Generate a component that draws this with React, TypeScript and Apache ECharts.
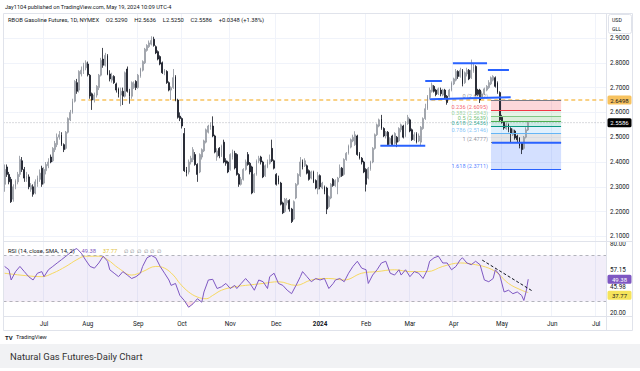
import React, { useEffect, useRef } from 'react';
import * as echarts from 'echarts';

const FONT = 'Roboto, "Noto Sans", sans-serif';

// ---- dates ----
const FIRST_DAY = '2023-06-06';
const LAST_BAR_DAY = '2024-05-17';
const LAST_AXIS_DAY = '2024-07-05';
const HOLIDAYS = ['2023-06-19', '2023-07-04', '2023-09-04', '2023-11-23', '2023-12-25', '2024-01-01', '2024-01-15', '2024-02-19', '2024-03-29'];
const MONTHS = ['Jan', 'Feb', 'Mar', 'Apr', 'May', 'Jun', 'Jul', 'Aug', 'Sep', 'Oct', 'Nov', 'Dec'];

// ---- OHLC (RBOB, daily) ----
const opens = [
  2.31, 2.38, 2.35, 2.33, 2.25, 2.30, 2.32, 2.35, 2.405, 2.37,
  2.33, 2.34, 2.29, 2.30, 2.275, 2.31, 2.33, 2.375, 2.315, 2.365,
  2.385, 2.42, 2.405, 2.45, 2.47, 2.50, 2.51, 2.47, 2.455, 2.52,
  2.57, 2.60, 2.645, 2.72, 2.69, 2.755, 2.765, 2.78, 2.795, 2.75,
  2.675, 2.65, 2.67, 2.70, 2.75, 2.815, 2.79, 2.83, 2.755, 2.73,
  2.745, 2.715, 2.695, 2.67, 2.685, 2.665, 2.775, 2.685,
  2.665, 2.70, 2.725, 2.70, 2.745, 2.77, 2.80, 2.85, 2.865, 2.875,
  2.895, 2.865, 2.845, 2.825, 2.80, 2.76, 2.765, 2.72, 2.69, 2.70,
  2.745, 2.65, 2.585, 2.575, 2.515, 2.37, 2.36, 2.40, 2.41, 2.43,
  2.39, 2.36, 2.42, 2.445, 2.48, 2.52, 2.54, 2.545, 2.505,
  2.42, 2.455, 2.425, 2.48, 2.405, 2.40, 2.37, 2.42, 2.435, 2.43,
  2.35, 2.31, 2.33, 2.37, 2.43, 2.395, 2.38, 2.28, 2.35, 2.405,
  2.42, 2.40, 2.345, 2.38, 2.395, 2.455, 2.405, 2.35, 2.335, 2.315,
  2.235, 2.20, 2.235, 2.245, 2.21, 2.17, 2.255, 2.31, 2.345, 2.40,
  2.385, 2.385, 2.365, 2.335, 2.36, 2.325, 2.29, 2.345, 2.295, 2.30,
  2.295, 2.22, 2.255, 2.33, 2.305, 2.32, 2.34, 2.375, 2.35, 2.41,
  2.435, 2.46, 2.485, 2.47, 2.505, 2.435, 2.415, 2.40, 2.37, 2.335,
  2.37, 2.40, 2.455, 2.51, 2.545, 2.575, 2.535, 2.505, 2.52, 2.475,
  2.505, 2.475, 2.50, 2.485, 2.53, 2.545, 2.505, 2.555, 2.57, 2.53,
  2.49, 2.515, 2.485, 2.48, 2.535, 2.575, 2.615, 2.66, 2.685, 2.705,
  2.69, 2.675, 2.69, 2.67, 2.69, 2.665, 2.665, 2.69, 2.715, 2.73,
  2.765, 2.745, 2.77, 2.72, 2.755, 2.77, 2.74, 2.765, 2.785, 2.69,
  2.69, 2.66, 2.675, 2.69, 2.70, 2.715, 2.73, 2.74, 2.72, 2.68,
  2.58, 2.56, 2.535, 2.55, 2.535, 2.51, 2.525, 2.505, 2.497, 2.475,
  2.455, 2.50, 2.529,
];
const closes = [
  2.37, 2.35, 2.32, 2.24, 2.30, 2.325, 2.35, 2.41, 2.37, 2.335,
  2.345, 2.30, 2.305, 2.27, 2.32, 2.335, 2.355, 2.31, 2.37, 2.39,
  2.40, 2.40, 2.455, 2.475, 2.50, 2.51, 2.47, 2.45, 2.52, 2.575,
  2.60, 2.645, 2.725, 2.685, 2.765, 2.77, 2.79, 2.80, 2.752, 2.666,
  2.65, 2.67, 2.705, 2.75, 2.81, 2.79, 2.83, 2.755, 2.735, 2.745,
  2.72, 2.69, 2.672, 2.685, 2.665, 2.76, 2.685, 2.665,
  2.72, 2.715, 2.70, 2.75, 2.775, 2.805, 2.855, 2.87, 2.88, 2.89,
  2.87, 2.84, 2.815, 2.795, 2.76, 2.77, 2.72, 2.69, 2.70, 2.74,
  2.65, 2.58, 2.575, 2.545, 2.365, 2.355, 2.40, 2.415, 2.45, 2.39,
  2.35, 2.43, 2.45, 2.485, 2.53, 2.545, 2.55, 2.505, 2.44,
  2.445, 2.425, 2.465, 2.40, 2.395, 2.36, 2.43, 2.44, 2.376, 2.35,
  2.31, 2.33, 2.37, 2.40, 2.39, 2.36, 2.275, 2.35, 2.405, 2.415,
  2.40, 2.34, 2.385, 2.40, 2.41, 2.405, 2.375, 2.31, 2.32, 2.23,
  2.195, 2.25, 2.245, 2.21, 2.16, 2.24, 2.31, 2.35, 2.40, 2.38,
  2.405, 2.355, 2.33, 2.36, 2.32, 2.295, 2.345, 2.30, 2.315, 2.28,
  2.21, 2.26, 2.31, 2.305, 2.325, 2.335, 2.375, 2.345, 2.41, 2.435,
  2.465, 2.49, 2.50, 2.51, 2.43, 2.415, 2.40, 2.36, 2.31, 2.375,
  2.40, 2.455, 2.51, 2.55, 2.57, 2.535, 2.505, 2.52, 2.47, 2.495,
  2.47, 2.515, 2.48, 2.535, 2.55, 2.50, 2.56, 2.58, 2.525, 2.49,
  2.51, 2.48, 2.505, 2.54, 2.575, 2.615, 2.665, 2.69, 2.71, 2.685,
  2.672, 2.695, 2.675, 2.69, 2.66, 2.64, 2.69, 2.72, 2.735, 2.765,
  2.745, 2.77, 2.715, 2.76, 2.77, 2.735, 2.77, 2.785, 2.67, 2.672,
  2.65, 2.675, 2.695, 2.705, 2.72, 2.74, 2.745, 2.705, 2.68, 2.57,
  2.56, 2.537, 2.55, 2.53, 2.517, 2.53, 2.497, 2.49, 2.463, 2.45,
  2.50, 2.53, 2.5586,
];
const lows = [
  2.28, 2.34, 2.31, 2.235, 2.24, 2.29, 2.31, 2.34, 2.36, 2.32,
  2.32, 2.29, 2.28, 2.26, 2.27, 2.30, 2.32, 2.30, 2.31, 2.35,
  2.375, 2.395, 2.40, 2.44, 2.46, 2.49, 2.465, 2.44, 2.45, 2.515,
  2.565, 2.595, 2.64, 2.675, 2.68, 2.745, 2.755, 2.77, 2.745, 2.655,
  2.61, 2.64, 2.66, 2.69, 2.745, 2.78, 2.785, 2.75, 2.725, 2.72,
  2.715, 2.68, 2.66, 2.625, 2.63, 2.66, 2.68, 2.635,
  2.655, 2.695, 2.69, 2.695, 2.74, 2.765, 2.795, 2.845, 2.86, 2.87,
  2.865, 2.835, 2.81, 2.79, 2.755, 2.75, 2.715, 2.685, 2.65, 2.695,
  2.645, 2.575, 2.565, 2.535, 2.36, 2.342, 2.35, 2.39, 2.40, 2.385,
  2.32, 2.355, 2.41, 2.44, 2.475, 2.515, 2.53, 2.50, 2.435,
  2.405, 2.415, 2.42, 2.395, 2.385, 2.355, 2.365, 2.41, 2.37, 2.345,
  2.30, 2.305, 2.325, 2.365, 2.385, 2.35, 2.27, 2.275, 2.345, 2.395,
  2.39, 2.335, 2.34, 2.375, 2.39, 2.40, 2.37, 2.305, 2.31, 2.225,
  2.19, 2.195, 2.225, 2.20, 2.154, 2.165, 2.25, 2.305, 2.34, 2.37,
  2.38, 2.35, 2.325, 2.33, 2.315, 2.29, 2.27, 2.29, 2.29, 2.27,
  2.19, 2.215, 2.25, 2.30, 2.30, 2.27, 2.335, 2.34, 2.345, 2.405,
  2.43, 2.455, 2.48, 2.465, 2.425, 2.41, 2.39, 2.355, 2.281, 2.33,
  2.365, 2.395, 2.45, 2.505, 2.54, 2.53, 2.50, 2.495, 2.465, 2.47,
  2.465, 2.47, 2.46, 2.48, 2.52, 2.495, 2.50, 2.55, 2.52, 2.485,
  2.485, 2.475, 2.48, 2.465, 2.53, 2.57, 2.61, 2.655, 2.68, 2.68,
  2.665, 2.67, 2.665, 2.665, 2.655, 2.631, 2.66, 2.685, 2.71, 2.725,
  2.735, 2.74, 2.705, 2.715, 2.745, 2.73, 2.735, 2.76, 2.665, 2.665,
  2.638, 2.655, 2.67, 2.685, 2.695, 2.71, 2.725, 2.70, 2.675, 2.565,
  2.555, 2.53, 2.53, 2.52, 2.477, 2.505, 2.49, 2.48, 2.455, 2.432,
  2.45, 2.495, 2.525,
];
const highs = [
  2.39, 2.39, 2.36, 2.34, 2.31, 2.33, 2.36, 2.425, 2.42, 2.38,
  2.36, 2.35, 2.315, 2.31, 2.33, 2.345, 2.37, 2.385, 2.38, 2.40,
  2.415, 2.43, 2.46, 2.485, 2.515, 2.525, 2.52, 2.475, 2.525, 2.58,
  2.61, 2.655, 2.73, 2.735, 2.77, 2.785, 2.80, 2.81, 2.805, 2.755,
  2.68, 2.68, 2.71, 2.755, 2.82, 2.86, 2.84, 2.835, 2.77, 2.76,
  2.75, 2.72, 2.70, 2.70, 2.70, 2.765, 2.785, 2.695,
  2.725, 2.725, 2.73, 2.755, 2.78, 2.81, 2.86, 2.875, 2.89, 2.907,
  2.905, 2.87, 2.85, 2.83, 2.805, 2.775, 2.77, 2.725, 2.705, 2.775,
  2.75, 2.655, 2.60, 2.58, 2.537, 2.38, 2.41, 2.425, 2.46, 2.44,
  2.395, 2.435, 2.455, 2.49, 2.535, 2.55, 2.56, 2.584, 2.51,
  2.455, 2.46, 2.47, 2.49, 2.415, 2.405, 2.435, 2.45, 2.445, 2.435,
  2.355, 2.34, 2.375, 2.41, 2.44, 2.40, 2.385, 2.355, 2.41, 2.425,
  2.425, 2.405, 2.39, 2.41, 2.43, 2.49, 2.41, 2.355, 2.345, 2.32,
  2.24, 2.255, 2.255, 2.25, 2.215, 2.245, 2.315, 2.355, 2.42, 2.41,
  2.415, 2.39, 2.37, 2.365, 2.365, 2.33, 2.36, 2.35, 2.32, 2.305,
  2.30, 2.265, 2.315, 2.335, 2.33, 2.34, 2.39, 2.38, 2.415, 2.44,
  2.47, 2.495, 2.51, 2.524, 2.51, 2.44, 2.42, 2.405, 2.375, 2.38,
  2.405, 2.46, 2.515, 2.555, 2.575, 2.59, 2.54, 2.525, 2.525, 2.50,
  2.51, 2.52, 2.505, 2.54, 2.555, 2.55, 2.565, 2.59, 2.575, 2.535,
  2.52, 2.52, 2.515, 2.545, 2.58, 2.635, 2.67, 2.70, 2.72, 2.71,
  2.695, 2.70, 2.70, 2.695, 2.695, 2.67, 2.695, 2.725, 2.74, 2.775,
  2.77, 2.78, 2.775, 2.765, 2.78, 2.775, 2.813, 2.795, 2.79, 2.695,
  2.695, 2.685, 2.70, 2.71, 2.73, 2.745, 2.75, 2.745, 2.725, 2.685,
  2.59, 2.565, 2.56, 2.555, 2.54, 2.535, 2.53, 2.51, 2.50, 2.48,
  2.505, 2.54, 2.5636,
];

const rsiPoints = [
  [0, 60.5], [2, 57.6], [3, 48.7], [5, 56], [7, 60.5], [9, 56], [11, 51.6], [13, 48.7], [15, 54.6], [17, 56],
  [18, 51.6], [20, 57.6], [22, 60.5], [24, 63.5], [26, 66.4], [28, 69.4], [30, 72.4], [32, 75.3], [33, 76], [35, 72],
  [37, 66], [39, 60.5], [41, 59], [43, 63.5], [45, 69.4], [47, 65], [48, 57.6], [50, 54.6], [52, 51.6], [54, 56],
  [56, 53], [58, 50], [60, 51.6], [62, 54.6], [63, 60.5], [65, 68], [67, 70], [69, 68], [71, 60.5], [73, 54.6],
  [75, 48.7], [76, 44], [78, 45.7], [80, 35.3], [82, 30.9], [84, 25], [86, 28], [88, 32.4], [90, 29.4], [91, 38.3],
  [93, 48.7], [95, 49.3], [97, 41.3], [99, 42.8], [101, 45.7], [103, 41.3], [105, 44], [106, 41.3], [108, 45.7], [110, 50],
  [112, 45.7], [114, 39.8], [116, 48.7], [118, 47.2], [120, 41.3], [121, 51.6], [123, 54.6], [125, 45.7], [127, 44], [129, 39.8],
  [131, 36.8], [133, 44], [135, 51.6], [136, 56], [138, 51.6], [140, 47.2], [142, 50], [144, 48.7], [146, 50], [148, 41.3],
  [150, 45.7], [151, 48.7], [153, 50], [155, 47.2], [157, 54.6], [159, 60.5], [161, 65], [163, 59], [165, 57.6], [166, 45.7],
  [168, 53], [170, 57.6], [172, 63.5], [174, 65], [176, 54.6], [178, 53], [180, 57.6], [181, 53], [183, 57.6], [185, 51.6],
  [187, 56], [189, 54.6], [191, 50], [193, 57.6], [194, 65], [196, 68], [198, 69.4], [200, 63.5], [202, 63.5], [204, 57.6],
  [206, 60.5], [208, 66.4], [209, 68], [211, 63.5], [213, 62], [215, 65], [217, 62], [219, 48.7], [221, 47.2], [223, 50],
  [224, 57.6], [226, 53], [228, 38.3], [230, 39.8], [232, 36.8], [234, 38.3], [236, 35.3], [237, 30.9], [238, 38.3], [239, 49.38],
];
const rsiSmaPoints = [
  [0, 54.6], [7, 53], [17, 51.6], [22, 54.6], [28, 60.5], [33, 66.4], [37, 69.4], [43, 69.4], [47, 66.4], [52, 59],
  [58, 53], [63, 56], [69, 60.5], [73, 59], [77, 53], [80, 45.7], [84, 38.3], [88, 33.9], [92, 32.4], [95, 35.3],
  [99, 39.8], [105, 42.8], [110, 44], [118, 45.7], [125, 47.2], [133, 44], [140, 48.7], [148, 50], [155, 48.7], [163, 54.6],
  [170, 56], [178, 57.6], [185, 56], [193, 56], [200, 60.5], [208, 63.5], [215, 62], [221, 59], [225, 54.6], [230, 45.7],
  [236, 39.8], [239, 37.77],
];
const rsiTrendLine = [[218, 66], [241, 39]];
const rsiUpper = 70;
const rsiLower = 30;

// ---- drawings on the price pane ----
const fibLevels = [0, 0.236, 0.382, 0.5, 0.618, 0.786, 1, 1.618];
const fibPrices = [2.6502, 2.6095, 2.5843, 2.5639, 2.5436, 2.5146, 2.4777, 2.3711];
const fibColors = ['#787b86', '#f23645', '#81c784', '#4caf50', '#089981', '#64b5f6', '#787b86', '#2962ff'];
const fibSpan = [222, 254];
const blueSegments = [
  [[171.5, 2.466], [192, 2.466]],
  [[192, 2.727], [199.6, 2.727]],
  [[204.6, 2.798], [220.2, 2.798]],
  [[220.6, 2.771], [230.2, 2.771]],
  [[194, 2.653], [231, 2.661]],
  [[222.5, 2.4777], [254, 2.4777]],
];
const alertLevel = 2.6498;
const alertStart = 35;
const lastPrice = 2.5586;
const lastRsi = 49.38;
const lastRsiSma = 37.77;
const rsiScaleMarks = [57.15, 45.98];

const HEADER = 'Jay1104 published on TradingView.com, May 19, 2024 10:09 UTC-4';
const TITLE = 'Natural Gas Futures-Daily Chart';

function buildDates(): string[] {
  const out: string[] = [];
  const d = new Date(FIRST_DAY + 'T00:00:00Z');
  const end = new Date(LAST_AXIS_DAY + 'T00:00:00Z');
  while (d <= end) {
    const iso = d.toISOString().slice(0, 10);
    const wd = d.getUTCDay();
    const closed = iso <= LAST_BAR_DAY && HOLIDAYS.includes(iso);
    if (wd !== 0 && wd !== 6 && !closed) out.push(iso);
    d.setUTCDate(d.getUTCDate() + 1);
  }
  return out;
}

function rgba(hex: string, a: number) {
  const n = parseInt(hex.slice(1), 16);
  return `rgba(${(n >> 16) & 255},${(n >> 8) & 255},${n & 255},${a})`;
}

export default function App() {
  const ref = useRef<HTMLDivElement>(null);
  useEffect(() => {
    const el = ref.current!;
    const chart = echarts.init(el, null, { renderer: 'svg' });
    const dates = buildDates();
    const N = dates.length;
    const monthStart = (i: number) => i > 0 && dates[i].slice(0, 7) !== dates[i - 1].slice(0, 7);
    const candles = opens.map((o, i) => [o, closes[i], lows[i], highs[i]]);
    const LEFT = 3.5;
    const WIDTH = 602.5;
    const RSI_TOP = 244;
    const RSI_H = 69;
    const pxPerRsi = RSI_H / 60;

    const overlayLine = (data: number[][], color: string, width: number, type: any = 'solid', z = 4) => ({
      type: 'line', xAxisIndex: 1, yAxisIndex: 0, data, symbol: 'none', silent: true, z,
      lineStyle: { color, width, type },
    });

    const series: any[] = [
      {
        type: 'line', xAxisIndex: 1, yAxisIndex: 0, data: [[fibSpan[0], fibPrices[0]]], symbol: 'none', z: 1,
        lineStyle: { width: 0 }, silent: true,
        markArea: {
          silent: true,
          data: fibPrices.slice(1).map((p, k) => [
            { coord: [fibSpan[0], fibPrices[k]], itemStyle: { color: rgba(fibColors[k + 1], 0.2) } },
            { coord: [fibSpan[1], p] },
          ]),
        },
        markLine: {
          silent: true, symbol: ['none', 'none'], label: { show: false },
          data: fibPrices.map((p, k) => [
            { coord: [fibSpan[0], p], lineStyle: { color: fibColors[k], width: 1, type: 'solid' } },
            { coord: [fibSpan[1], p] },
          ]),
        },
      },
      {
        type: 'scatter', xAxisIndex: 1, yAxisIndex: 0, symbolSize: 0, z: 5, silent: true,
        data: fibPrices.map((p, k) => ({ value: [fibSpan[0], p], label: { color: fibColors[k] } })),
        label: {
          show: true, position: 'left', distance: 3, offset: [0, -3.5], fontSize: 5.6, fontFamily: FONT,
          formatter: (pr: any) => `${fibLevels[pr.dataIndex]} (${fibPrices[pr.dataIndex].toFixed(4)})`,
        },
      },
      overlayLine([[-0.5, lastPrice], [N - 0.5, lastPrice]], '#9598a1', 0.7, [1, 2], 2),
      overlayLine([[alertStart, alertLevel], [N - 0.5, alertLevel]], '#f7c25e', 1.5, [4, 3], 2),
      {
        type: 'candlestick', xAxisIndex: 0, yAxisIndex: 0, data: candles, barWidth: '62%', clip: false, z: 3,
        itemStyle: { color: '#ffffff', color0: '#131722', borderColor: '#8c9099', borderColor0: '#131722', borderWidth: 0.8 },
      },
      ...blueSegments.map((s) => overlayLine(s, '#2962ff', 2, 'solid', 6)),
      {
        type: 'line', xAxisIndex: 2, yAxisIndex: 1, data: rsiPoints, symbol: 'none', z: 3,
        lineStyle: { color: '#7e57c2', width: 1 },
        markArea: { silent: true, itemStyle: { color: 'rgba(126,87,194,0.1)' }, data: [[{ yAxis: rsiUpper }, { yAxis: rsiLower }]] },
        markLine: {
          silent: true, symbol: ['none', 'none'], label: { show: false },
          lineStyle: { color: '#9598a1', width: 0.7, type: [3, 3] },
          data: [{ yAxis: rsiUpper }, { yAxis: rsiLower }],
        },
      },
      {
        type: 'line', xAxisIndex: 2, yAxisIndex: 1, data: rsiSmaPoints, symbol: 'none', smooth: 0.4, z: 2,
        lineStyle: { color: '#f6d860', width: 1 },
      },
      {
        type: 'line', xAxisIndex: 2, yAxisIndex: 1, data: rsiTrendLine, symbol: 'none', z: 4,
        lineStyle: { color: '#131722', width: 1, type: [3, 2] },
      },
      // oversold fill: same RSI points in a pane clipped to 20..30
      {
        type: 'line', xAxisIndex: 4, yAxisIndex: 3, data: rsiPoints, symbol: 'none', z: 1, clip: true,
        lineStyle: { width: 0 }, areaStyle: { origin: 'end', color: 'rgba(242,54,69,0.22)' },
      },
      { type: 'line', xAxisIndex: 3, yAxisIndex: 2, data: [] },
    ];

    const option: any = {
      animation: false,
      textStyle: { fontFamily: FONT },
      grid: [
        { left: LEFT, width: WIDTH, top: 38, height: 198.4 },
        { left: LEFT, width: WIDTH, top: RSI_TOP, height: RSI_H },
        { left: LEFT, width: WIDTH, top: 13, height: 303 },
        { left: LEFT, width: WIDTH, top: RSI_TOP + (80 - rsiLower) * pxPerRsi, height: (rsiLower - 20) * pxPerRsi },
      ],
      xAxis: [
        { type: 'category', gridIndex: 0, data: dates, show: false, boundaryGap: true },
        { type: 'value', gridIndex: 0, min: -0.5, max: N - 0.5, show: false },
        { type: 'value', gridIndex: 1, min: -0.5, max: N - 0.5, show: false },
        {
          type: 'category', gridIndex: 2, data: dates, boundaryGap: true,
          axisLine: { show: false }, axisTick: { show: false },
          axisLabel: {
            interval: (i: number) => monthStart(i), margin: 5, fontSize: 6.3, color: '#131722', fontFamily: FONT,
            formatter: (v: string) => {
              const m = parseInt(v.slice(5, 7), 10) - 1;
              return m === 0 ? `{b|${v.slice(0, 4)}}` : MONTHS[m];
            },
            rich: { b: { fontWeight: 'bold', fontSize: 6.3, color: '#131722', fontFamily: FONT } },
          },
          splitLine: { show: true, interval: (i: number) => monthStart(i), lineStyle: { color: '#f0f3fa', width: 1 } },
        },
        { type: 'value', gridIndex: 3, min: -0.5, max: N - 0.5, show: false },
      ],
      yAxis: [
        {
          type: 'value', gridIndex: 0, position: 'right', min: 2.1, max: 2.9, interval: 0.1,
          axisLine: { show: false }, axisTick: { show: false },
          axisLabel: { formatter: (v: number) => v.toFixed(4), fontSize: 6.3, color: '#131722', margin: 4, fontFamily: FONT },
          splitLine: { lineStyle: { color: '#f0f3fa', width: 1 } },
        },
        {
          type: 'value', gridIndex: 1, position: 'right', min: 20, max: 80, interval: 60,
          axisLine: { show: false }, axisTick: { show: false },
          axisLabel: { formatter: (v: number) => v.toFixed(2), fontSize: 6.3, color: '#131722', margin: 4, fontFamily: FONT },
          splitLine: { show: false },
        },
        { type: 'value', gridIndex: 2, show: false },
        { type: 'value', gridIndex: 3, min: 20, max: rsiLower, show: false },
      ],
      series,
    };
    chart.setOption(option);

    const yP = (axis: number, v: number) => chart.convertToPixel({ yAxisIndex: axis } as any, v) as unknown as number;
    const tag = (y: number, text: string, bg: string, fg: string) => ({
      type: 'group', x: 607.5, y: y - 4.5, z: 50,
      children: [
        { type: 'rect', shape: { x: 0, y: 0, width: 24, height: 9, r: 1.5 }, style: { fill: bg } },
        { type: 'text', x: 12, y: 4.7, style: { text, fill: fg, fontSize: 6, fontFamily: FONT, align: 'center', verticalAlign: 'middle' } },
      ],
    });
    const plain = (y: number, text: string) => ({
      type: 'text', x: 610, y, z: 50,
      style: { text, fill: '#131722', fontSize: 6.3, fontFamily: FONT, verticalAlign: 'middle' },
    });

    const yRsiTag = yP(1, lastRsi);
    const y57 = yP(1, rsiScaleMarks[0]);
    let y46 = yP(1, rsiScaleMarks[1]);
    if (y46 - yRsiTag < 8) y46 = yRsiTag + 8;
    let ySmaTag = yP(1, lastRsiSma);
    if (ySmaTag - y46 < 8) ySmaTag = y46 + 8;

    const graphics: any[] = [
      { type: 'text', x: 5, y: 7, z: 50, style: { text: HEADER, fill: '#131722', fontSize: 5.6, fontFamily: FONT, verticalAlign: 'middle' } },
      { type: 'rect', z: 40, shape: { x: 3.5, y: 13.5, width: 629, height: 317 }, style: { fill: 'none', stroke: '#e0e3eb', lineWidth: 1 } },
      { type: 'line', z: 40, shape: { x1: 3.5, y1: 241.5, x2: 632.5, y2: 241.5 }, style: { stroke: '#e0e3eb', lineWidth: 1 } },
      { type: 'line', z: 40, shape: { x1: 3.5, y1: 316.5, x2: 632.5, y2: 316.5 }, style: { stroke: '#e0e3eb', lineWidth: 1 } },
      { type: 'line', z: 40, shape: { x1: 606.5, y1: 13.5, x2: 606.5, y2: 330.5 }, style: { stroke: '#e0e3eb', lineWidth: 1 } },
      {
        type: 'text', x: 8, y: 19.5, z: 50,
        style: {
          text: '{a|RBOB Gasoline Futures, 1D, NYMEX}  {a|O}{v|2.5290}  {a|H}{v|2.5636}  {a|L}{v|2.5250}  {a|C}{v|2.5586}  {v|+0.0348 (+1.38%)}',
          verticalAlign: 'middle',
          rich: {
            a: { fill: '#131722', fontSize: 5.8, fontFamily: FONT },
            v: { fill: '#131722', fontSize: 5.8, fontFamily: FONT },
          },
        },
      },
      { type: 'rect', z: 45, shape: { x: 608.5, y: 14.5, width: 23, height: 19, r: 2 }, style: { fill: '#ffffff', stroke: '#e0e3eb', lineWidth: 1 } },
      { type: 'text', x: 612, y: 19.5, z: 50, style: { text: 'USD', fill: '#131722', fontSize: 5.2, fontFamily: FONT, verticalAlign: 'middle' } },
      { type: 'text', x: 612, y: 29, z: 50, style: { text: 'GLL', fill: '#131722', fontSize: 5.2, fontFamily: FONT, verticalAlign: 'middle' } },
      {
        type: 'text', x: 8, y: 250.5, z: 50,
        style: {
          text: '{a|RSI (14, close, SMA, 14, 2)}  {p|49.38}  {y|37.77}  {g|∅  ∅  ∅  ∅  ∅  ∅}',
          verticalAlign: 'middle',
          rich: {
            a: { fill: '#131722', fontSize: 5.8, fontFamily: FONT },
            p: { fill: '#7e57c2', fontSize: 5.8, fontFamily: FONT },
            y: { fill: '#e2c23a', fontSize: 5.8, fontFamily: FONT },
            g: { fill: '#787b86', fontSize: 5.2, fontFamily: FONT },
          },
        },
      },
      tag(yP(0, alertLevel), alertLevel.toFixed(4), '#f7c25e', '#131722'),
      tag(yP(0, lastPrice), lastPrice.toFixed(4), '#000000', '#ffffff'),
      plain(y57, rsiScaleMarks[0].toFixed(2)),
      plain(y46, rsiScaleMarks[1].toFixed(2)),
      tag(yRsiTag, lastRsi.toFixed(2), '#7e57c2', '#ffffff'),
      tag(ySmaTag, lastRsiSma.toFixed(2), '#f5e35a', '#131722'),
      {
        type: 'text', x: 5, y: 337, z: 50,
        style: {
          text: '{l|TV} {t|TradingView}', verticalAlign: 'middle',
          rich: {
            l: { fill: '#131722', fontSize: 6, fontWeight: 'bold', fontFamily: FONT },
            t: { fill: '#131722', fontSize: 5.6, fontFamily: FONT },
          },
        },
      },
      { type: 'rect', z: 30, shape: { x: 0, y: 344, width: 640, height: 24 }, style: { fill: '#f1f2f4' } },
      { type: 'text', x: 10, y: 356, z: 50, style: { text: TITLE, fill: '#333333', fontSize: 9.5, fontFamily: FONT, verticalAlign: 'middle' } },
    ];
    chart.setOption({ graphic: graphics });
    return () => chart.dispose();
  }, []);
  return <div ref={ref} style={{ position: 'fixed', left: 0, top: 0, width: 640, height: 371, background: '#ffffff' }} />;
}
